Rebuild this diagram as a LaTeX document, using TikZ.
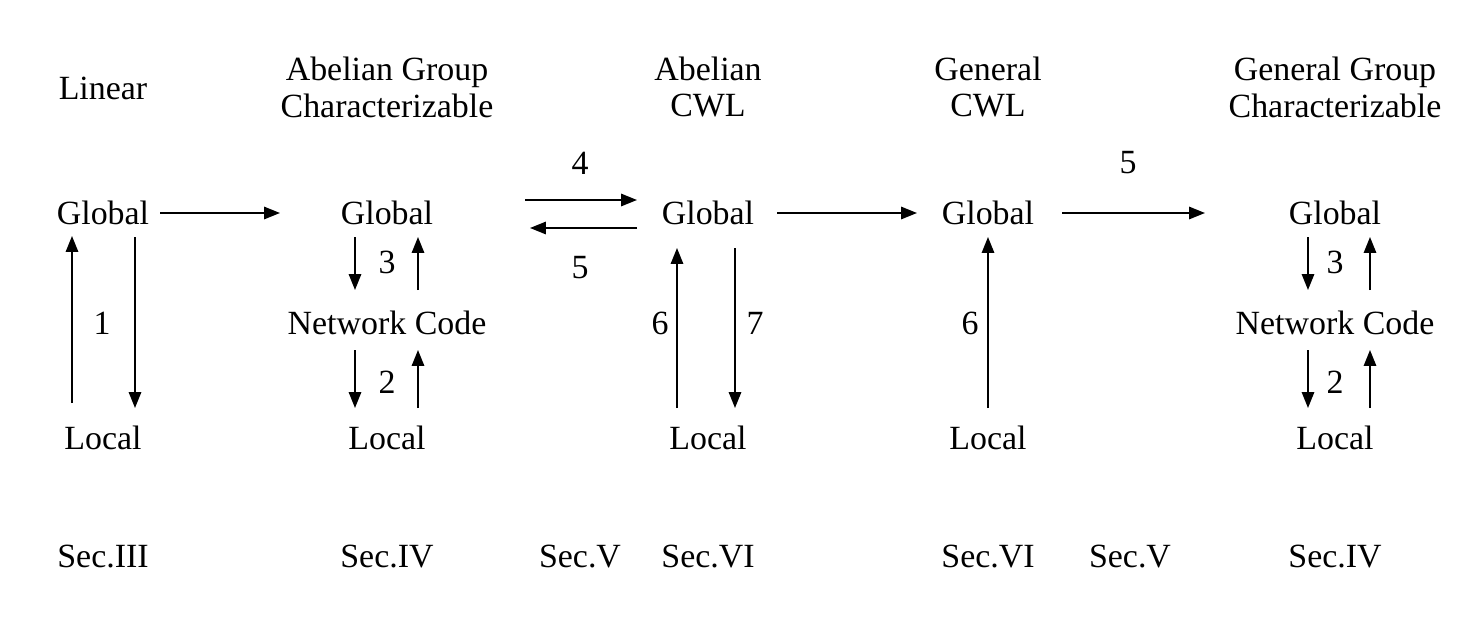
\documentclass[tikz,border=0pt]{standalone}
\usepackage{fontspec}
\setmainfont{Liberation Serif}
\usetikzlibrary{arrows.meta, calc}

\begin{document}
\begin{tikzpicture}[x=0.02cm, y=-0.02cm, >={Triangle[length=9pt, width=7pt]},
    every node/.style={font=\fontsize{19.3}{21}\selectfont, align=center, inner sep=0pt},
    arr/.style={->, line width=1pt}]
        \useasboundingbox (0,0) rectangle (1478,622);

        % titles
        \node (t1) at (103,88) {Linear};
        \node (t2) at (387,87) {Abelian Group\\Characterizable};
        \node (t3) at (708,87) {Abelian\\CWL};
        \node (t4) at (988,87) {General\\CWL};
        \node (t5) at (1335,87) {General Group\\Characterizable};

        % nodes
        \node (g1) at (103,213) {Global};
        \node (g2) at (387,213) {Global};
        \node (g3) at (708,213) {Global};
        \node (g4) at (988,213) {Global};
        \node (g5) at (1335,213) {Global};
        \node (n2) at (387,323) {Network Code};
        \node (n5) at (1335,323) {Network Code};
        \node (l1) at (103,438) {Local};
        \node (l2) at (387,438) {Local};
        \node (l3) at (708,438) {Local};
        \node (l4) at (988,438) {Local};
        \node (l5) at (1335,438) {Local};

        % sections
        \node (s1) at (103,557) {Sec.III};
        \node (s2) at (387,557) {Sec.IV};
        \node (s3) at (580,557) {Sec.V};
        \node (s4) at (708,557) {Sec.VI};
        \node (s5) at (988,557) {Sec.VI};
        \node (s6) at (1130,557) {Sec.V};
        \node (s7) at (1335,557) {Sec.IV};

        % horizontal arrows
        \draw[arr] ($(g1)+(57,0)$) -- ($(g2)+(-107,0)$);
        \draw[arr] ($(g2)+(138,-13)$) -- ($(g3)+(-71,-13)$);
        \draw[arr] ($(g3)+(-71,15)$) -- ($(g2)+(143,15)$);
        \draw[arr] ($(g3)+(69,0)$) -- ($(g4)+(-71,0)$);
        \draw[arr] ($(g4)+(74,0)$) -- ($(g5)+(-130,0)$);
        \node (h4) at (580,163) {4};
        \node (h5) at (580,268) {5};
        \node (h5b) at (1128,163) {5};

        % Linear
        \draw[arr] ($(l1)+(-31,-35)$) -- ($(g1)+(-31,23)$);
        \draw[arr] ($(g1)+(32,24)$) -- ($(l1)+(32,-30)$);
        \node (v1) at (102,323) {1};

        % Abelian group characterizable
        \draw[arr] ($(g2)+(-32,24)$) -- ($(n2)+(-32,-33)$);
        \draw[arr] ($(n2)+(31,-33)$) -- ($(g2)+(31,24)$);
        \draw[arr] ($(n2)+(-32,27)$) -- ($(l2)+(-32,-30)$);
        \draw[arr] ($(l2)+(31,-30)$) -- ($(n2)+(31,27)$);
        \node (v3) at (387,262) {3};
        \node (v2) at (387,382) {2};

        % Abelian CWL
        \draw[arr] ($(l3)+(-31,-30)$) -- ($(g3)+(-31,35)$);
        \draw[arr] ($(g3)+(27,35)$) -- ($(l3)+(27,-30)$);
        \node (v6) at (660,323) {6};
        \node (v7) at (755,323) {7};

        % General CWL
        \draw[arr] ($(l4)+(0,-30)$) -- ($(g4)+(0,24)$);
        \node (v6b) at (970,323) {6};

        % general group characterizable
        \draw[arr] ($(g5)+(-27,24)$) -- ($(n5)+(-27,-33)$);
        \draw[arr] ($(n5)+(35,-33)$) -- ($(g5)+(35,24)$);
        \draw[arr] ($(n5)+(-27,27)$) -- ($(l5)+(-27,-30)$);
        \draw[arr] ($(l5)+(35,-30)$) -- ($(n5)+(35,27)$);
        \node (v3b) at (1335,262) {3};
        \node (v2b) at (1335,382) {2};
    \end{tikzpicture}
\end{document}
